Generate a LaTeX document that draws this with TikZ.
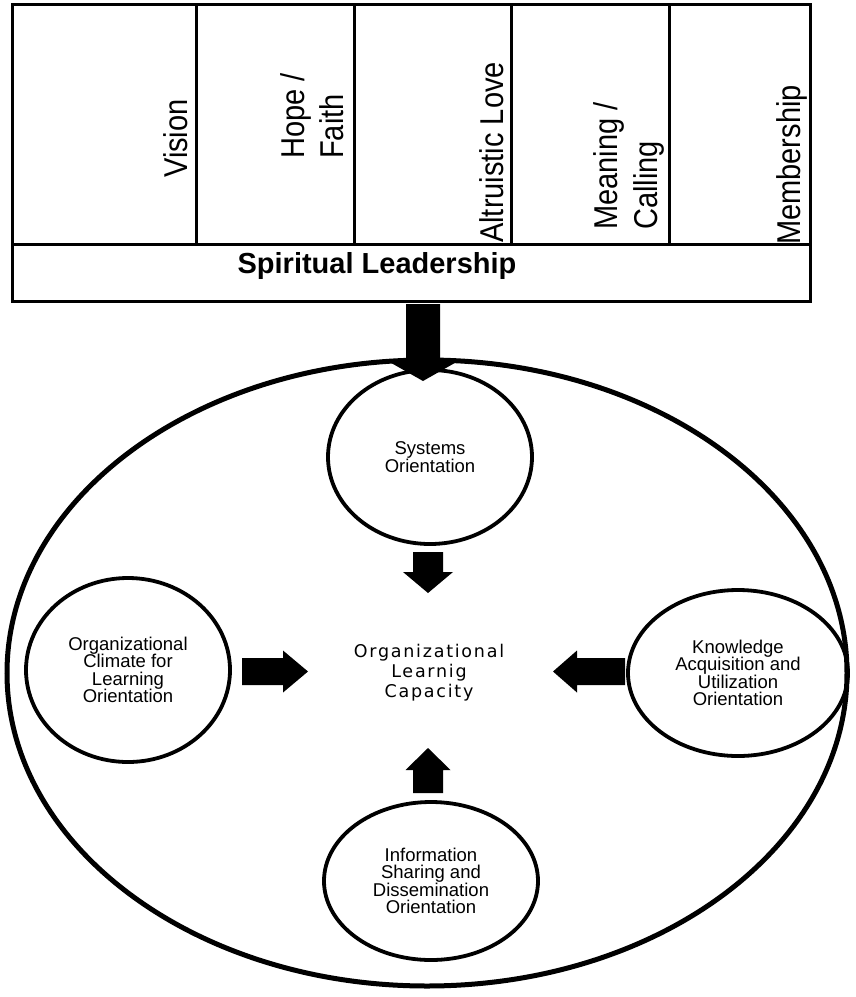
\documentclass[tikz,border=0pt]{standalone}
\usepackage{fontspec}
\setmainfont{Liberation Sans}
\newfontfamily\spacedfont[LetterSpace=10]{DejaVu Sans}
\usetikzlibrary{shapes.geometric,calc}

% filled block arrow: #1 tail, #2 tip, #3 half shaft width, #4 half head width, #5 head length
\newcommand\blockarrow[5]{%
  \coordinate (hb) at ($(#2)!#5!(#1)$);
  \fill[blockfill] ($(#1)!#3!90:(#2)$) -- ($(hb)!#3!-90:(#1)$) -- ($(hb)!#4!-90:(#1)$)
    -- (#2) -- ($(hb)!#4!90:(#1)$) -- ($(hb)!#3!90:(#1)$) -- ($(#1)!#3!-90:(#2)$) -- cycle;
}

\tikzset{
  cellline/.style={line width=3pt},
  celltext/.style={rotate=90, xscale=0.88, anchor=base west, inner sep=0pt,
    font=\fontsize{33}{38}\selectfont},
  outerring/.style={draw, ellipse, line width=5pt, inner sep=0pt},
  facet/.style={draw, ellipse, line width=3.8pt, inner sep=0pt, align=center,
    font=\fontsize{18.5}{17.5}\selectfont},
  blockfill/.style={fill=black},
}

\begin{document}
\begin{tikzpicture}[x=1pt,y=-1pt]
\useasboundingbox (0,0) rectangle (855,997);

% Spiritual leadership table
\draw[cellline] (12,4) rectangle (810,301);
\draw[cellline] (12,244) -- (810,244);
\foreach \cx in {196,354,511,669} \draw[cellline] (\cx,4) -- (\cx,244);

\node[celltext] (vision) at (187,178) {Vision};
\node[celltext] (hope)   at (304,159) {Hope /};
\node[celltext] (faith)  at (343,159) {Faith};
\node[celltext] (love)   at (503,243) {Altruistic Love};
\node[celltext] (mean)   at (617,230) {Meaning /};
\node[celltext] (call)   at (657,230) {Calling};
\node[celltext] (member) at (800,245) {Membership};

\node[font=\bfseries\fontsize{29}{34}\selectfont, anchor=base, inner sep=0pt] (sl) at (377,273) {Spiritual Leadership};

% organizational learning capacity
\node[outerring, minimum width=840pt, minimum height=626pt] (ring) at (427,673) {};

\node[facet, minimum width=204pt, minimum height=174pt] (sys) at (430,457) {Systems\\Orientation};
\node[facet, minimum width=204pt, minimum height=184pt] (clim) at (128,670) {Organizational\\Climate for\\Learning\\Orientation};
\node[facet, minimum width=220pt, minimum height=166pt] (know) at (738,673) {Knowledge\\Acquisition and\\Utilization\\Orientation};
\node[facet, minimum width=214pt, minimum height=158pt] (info) at (431,881) {Information\\Sharing and\\Dissemination\\Orientation};

\node[font=\spacedfont\fontsize{17.5}{20}\selectfont, align=center, inner sep=0pt] (olc) at (429,672.6) {Organizational\\Learnig\\Capacity};

% arrows
\coordinate (a1s) at (423,304); \coordinate (a1t) at (423,381);
\coordinate (a2s) at (428,552); \coordinate (a2t) at (428,593);
\coordinate (a3s) at (242,671.5); \coordinate (a3t) at (308,671.5);
\coordinate (a4s) at (625,671.5); \coordinate (a4t) at (553,671.5);
\coordinate (a5s) at (428,793); \coordinate (a5t) at (428,748);

\blockarrow{a1s}{a1t}{17pt}{33.5pt}{19pt}
\blockarrow{a2s}{a2t}{15pt}{25pt}{21pt}
\blockarrow{a3s}{a3t}{13.5pt}{21pt}{25pt}
\blockarrow{a4s}{a4t}{13.5pt}{21pt}{24pt}
\blockarrow{a5s}{a5t}{15pt}{22.5pt}{22pt}
\end{tikzpicture}
\end{document}
